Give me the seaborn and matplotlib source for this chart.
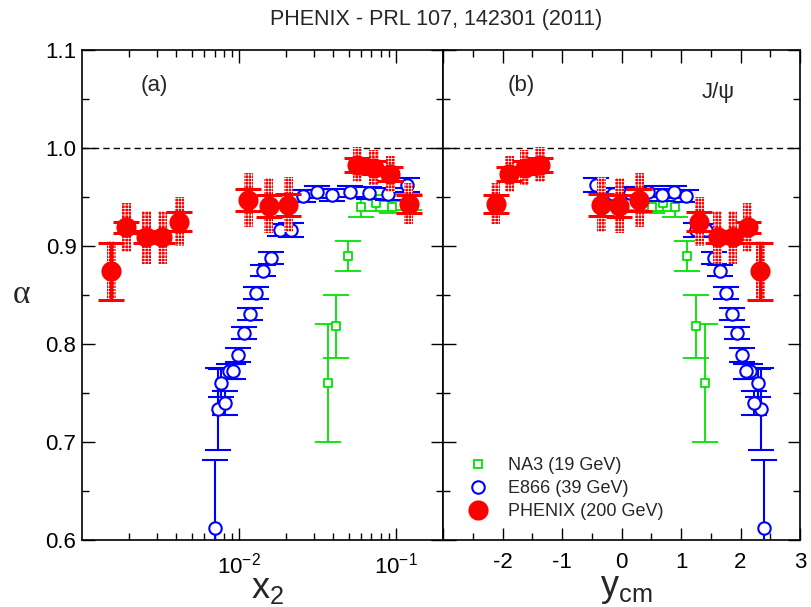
import numpy as np
import pandas as pd
import matplotlib
matplotlib.use("Agg")
import matplotlib.pyplot as plt
import seaborn as sns
from matplotlib.patches import Rectangle
from matplotlib.lines import Line2D
from matplotlib.ticker import (LogLocator, LogFormatterSciNotation, MultipleLocator,
                               FixedLocator, FuncFormatter, NullFormatter, FormatStrFormatter)

# ---------------------------------------------------------------- data
# NA3 (19 GeV)
na3_x2 = [0.0370, 0.0417, 0.0497, 0.0598, 0.0750, 0.0947, 0.1208]
na3_ycm = [1.403, 1.257, 1.10, 0.90, 0.69, 0.52, 0.28]
na3_alpha = [0.760, 0.818, 0.890, 0.940, 0.944, 0.940, 0.945]
na3_err = [0.060, 0.032, 0.0155, 0.010, 0.008, 0.006, 0.008]

# E866 (39 GeV)
e866_x2 = [0.00705, 0.00732, 0.00766, 0.00815, 0.00864, 0.0092, 0.0099, 0.01076,
           0.01175, 0.01294, 0.01425, 0.0161, 0.01816, 0.02133, 0.02552, 0.0313,
           0.0390, 0.0508, 0.0675, 0.0889, 0.1175]
e866_ycm = [2.39, 2.345, 2.29, 2.234, 2.166, 2.093, 2.02, 1.94, 1.863, 1.756, 1.66,
            1.55, 1.42, 1.26, 1.083, 0.887, 0.673, 0.438, 0.146, -0.15, -0.433]
e866_alpha = [0.612, 0.7335, 0.760, 0.740, 0.772, 0.772, 0.789, 0.811, 0.831, 0.852,
              0.875, 0.888, 0.9165, 0.9165, 0.951, 0.955, 0.952, 0.9555, 0.954, 0.953,
              0.9626]
e866_err = [0.070, 0.042, 0.014, 0.012, 0.008, 0.008, 0.007, 0.006, 0.006, 0.006,
            0.006, 0.006, 0.006, 0.007, 0.006, 0.006, 0.006, 0.006, 0.006, 0.006, 0.007]

# PHENIX (200 GeV)
phx_x2 = [0.00154, 0.00192, 0.00257, 0.00325, 0.00417, 0.01146, 0.01549, 0.0207,
          0.0569, 0.0726, 0.0925, 0.1208]
phx_ycm = [2.335, 2.12, 1.87, 1.616, 1.31, 0.298, -0.039, -0.337, -1.37, -1.628,
           -1.89, -2.116]
phx_alpha = [0.874, 0.919, 0.909, 0.909, 0.925, 0.947, 0.941, 0.942, 0.983, 0.980,
             0.9735, 0.943]
phx_stat = [0.029, 0.006, 0.006, 0.006, 0.010, 0.011, 0.011, 0.011, 0.007, 0.007,
            0.007, 0.0095]
phx_sys = [0.031, 0.025, 0.027, 0.027, 0.025, 0.028, 0.028, 0.028, 0.018, 0.018,
           0.018, 0.021]

legend_labels = ["NA3 (19 GeV)", "E866 (39 GeV)", "PHENIX (200 GeV)"]
title_text = "PHENIX - PRL 107, 142301 (2011)"

# ---------------------------------------------------------------- style
GREEN = "#00e400"
BLUE = "#0000ff"
RED = "#ff0000"

sns.set_theme(style="ticks")
plt.rcParams.update({
    "font.family": ["Liberation Sans", "DejaVu Sans"],
    "mathtext.fontset": "custom",
    "mathtext.rm": "Liberation Sans",
    "mathtext.it": "Liberation Sans",
    "mathtext.bf": "Liberation Sans:bold",
    "hatch.linewidth": 0.5,
    "axes.linewidth": 1.2,
    "axes.edgecolor": "black",
    "xtick.color": "black",
    "ytick.color": "black",
})

fig = plt.figure(figsize=(8.11, 6.07), dpi=100)
W, H = 811, 607
x0, xm, x1 = 82, 443, 800
ytop, ybot = 50, 540
ax_a = fig.add_axes([x0 / W, 1 - ybot / H, (xm - x0) / W, (ybot - ytop) / H])
ax_b = fig.add_axes([xm / W, 1 - ybot / H, (x1 - xm) / W, (ybot - ytop) / H])


def draw_panel(ax, x_na3, x_e866, x_phx, band_edges):
    ax.axhline(1.0, color="black", lw=1.0, ls=(0, (4.5, 3)), zorder=1)

    # NA3
    ax.errorbar(x_na3, na3_alpha, yerr=na3_err, fmt="none", ecolor=GREEN,
                elinewidth=1.3, capsize=9.5, capthick=1.3, zorder=2)
    sns.scatterplot(x=x_na3, y=na3_alpha, ax=ax, marker="s", s=34,
                    facecolor="white", edgecolor=GREEN, linewidth=1.3, zorder=3)

    # E866
    ax.errorbar(x_e866, e866_alpha, yerr=e866_err, fmt="none", ecolor=BLUE,
                elinewidth=1.5, capsize=9.5, capthick=1.5, zorder=4)
    sns.scatterplot(x=x_e866, y=e866_alpha, ax=ax, marker="o", s=80,
                    facecolor="white", edgecolor=BLUE, linewidth=1.5, zorder=5)

    # PHENIX: systematic boxes, statistical bars, points
    for (lo, hi), a, s in zip(band_edges, phx_alpha, phx_sys):
        ax.add_patch(Rectangle((lo, a - s), hi - lo, 2 * s, facecolor=RED,
                               edgecolor="white", hatch="+++++", lw=0, zorder=6))
    ax.errorbar(x_phx, phx_alpha, yerr=phx_stat, fmt="none", ecolor=RED,
                elinewidth=2.2, capsize=9.5, capthick=2.2, zorder=7)
    sns.scatterplot(x=x_phx, y=phx_alpha, ax=ax, marker="o", s=210,
                    color=RED, linewidth=0, zorder=8)

    ax.set_ylim(0.6, 1.1)
    ax.yaxis.set_major_locator(MultipleLocator(0.1))
    ax.yaxis.set_minor_locator(MultipleLocator(0.05))
    ax.tick_params(which="both", direction="in", top=True, right=True,
                   labelsize=16, width=1.0)
    ax.tick_params(which="major", length=9)
    ax.tick_params(which="minor", length=5)
    ax.tick_params(axis="x", pad=9)
    ax.tick_params(axis="y", pad=4)
    ax.set_xlabel("")
    ax.set_ylabel("")
    ax.set_facecolor("white")


# panel (a): x2, log scale
half_dec = 0.029
edges_a = [(x * 10 ** -half_dec, x * 10 ** half_dec) for x in phx_x2]
ax_a.set_xscale("log")
draw_panel(ax_a, na3_x2, e866_x2, phx_x2, edges_a)
ax_a.set_xlim(0.001, 0.2)
ax_a.xaxis.set_major_locator(FixedLocator([0.01, 0.1]))
ax_a.xaxis.set_major_formatter(LogFormatterSciNotation())
ax_a.xaxis.set_minor_locator(LogLocator(base=10, subs=np.arange(2, 10), numticks=20))
ax_a.xaxis.set_minor_formatter(NullFormatter())
ax_a.yaxis.set_major_formatter(FormatStrFormatter("%.1f"))

# panel (b): rapidity
half_u = 0.076
edges_b = [(y - half_u, y + half_u) for y in phx_ycm]
draw_panel(ax_b, na3_ycm, e866_ycm, phx_ycm, edges_b)
ax_b.set_xlim(-3, 3)
ax_b.xaxis.set_major_locator(MultipleLocator(1))
ax_b.xaxis.set_minor_locator(MultipleLocator(0.5))
ax_b.xaxis.set_major_formatter(
    FuncFormatter(lambda v, p: "" if v < -2.5 else f"{v:.0f}"))
ax_b.tick_params(axis="y", labelleft=False)

# legend
handles = [
    Line2D([], [], ls="none", marker="s", ms=6, mfc="white", mec=GREEN, mew=1.3),
    Line2D([], [], ls="none", marker="o", ms=9, mfc="white", mec=BLUE, mew=1.5),
    Line2D([], [], ls="none", marker="o", ms=14.5, mfc=RED, mec=RED, mew=0),
]
ax_b.legend(handles, legend_labels, loc="lower left", bbox_to_anchor=(0.072, 0.04),
            frameon=False, fontsize=13, handlelength=1.0, handletextpad=1.15,
            labelspacing=0.33, borderpad=0, borderaxespad=0)

# texts
ax_a.text(0.20, 0.928, "(a)", transform=ax_a.transAxes, fontsize=16,
          ha="center", va="center")
ax_b.text(0.22, 0.928, "(b)", transform=ax_b.transAxes, fontsize=16,
          ha="center", va="center")
ax_b.text(0.77, 0.913, "J/\u03c8", transform=ax_b.transAxes, fontsize=16,
          ha="center", va="center")
fig.text(436 / W, 1 - 19 / H, title_text, fontsize=15.5, ha="center", va="center")
fig.text(22 / W, 1 - 295 / H, "\u03b1", fontsize=24, ha="center", va="center",
         family=["Liberation Serif", "DejaVu Serif"])
fig.text(268 / W, 1 - 589 / H, r"$\mathrm{x}_{2}$", fontsize=26, ha="center",
         va="center")
fig.text(626 / W, 1 - 589 / H, r"$\mathrm{y}_{\mathrm{cm}}$", fontsize=26,
         ha="center", va="center")

fig.savefig("out.png", dpi=100, facecolor="white")
